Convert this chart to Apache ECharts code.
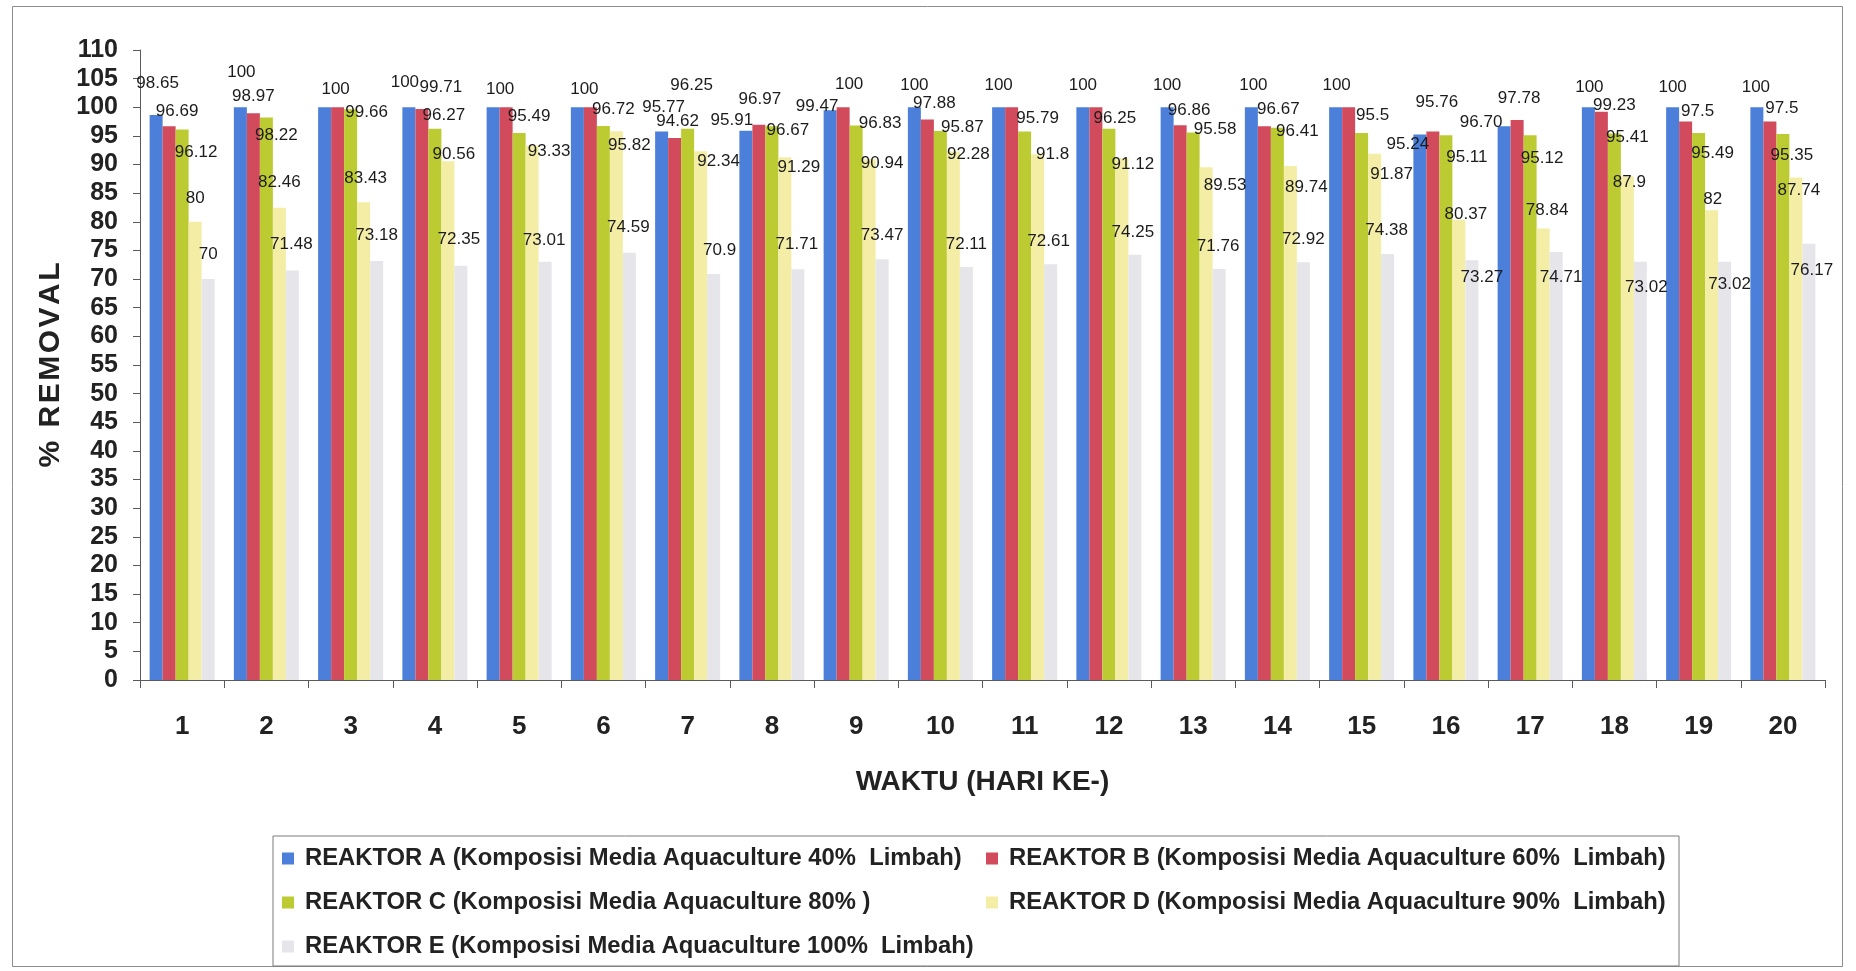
<!DOCTYPE html>
<html>
<head>
<meta charset="utf-8">
<script src="https://cdn.jsdelivr.net/npm/echarts@6/dist/echarts.min.js"></script>
<style>
  html, body { margin: 0; padding: 0; background: #ffffff; }
  #chart { width: 1856px; height: 971px; }
</style>
</head>
<body>
<div id="chart"></div>
<script>
// Days of observation (hari ke-)
const days = ['1', '2', '3', '4', '5', '6', '7', '8', '9', '10',
              '11', '12', '13', '14', '15', '16', '17', '18', '19', '20'];

// % removal per reactor (day 17 of A is reported as "96.70")
const reaktorA = [98.65, 100, 100, 100, 100, 100, 95.77, 95.91, 99.47, 100,
                  100, 100, 100, 100, 100, 95.24, '96.70', 100, 100, 100];
const reaktorB = [96.69, 98.97, 100, 99.71, 100, 100, 94.62, 96.97, 100, 97.88,
                  100, 100, 96.86, 96.67, 100, 95.76, 97.78, 99.23, 97.5, 97.5];
const reaktorC = [96.12, 98.22, 99.66, 96.27, 95.49, 96.72, 96.25, 96.67, 96.83, 95.87,
                  95.79, 96.25, 95.58, 96.41, 95.5, 95.11, 95.12, 95.41, 95.49, 95.35];
const reaktorD = [80, 82.46, 83.43, 90.56, 93.33, 95.82, 92.34, 91.29, 90.94, 92.28,
                  91.8, 91.12, 89.53, 89.74, 91.87, 80.37, 78.84, 87.9, 82, 87.74];
const reaktorE = [70, 71.48, 73.18, 72.35, 73.01, 74.59, 70.9, 71.71, 73.47, 72.11,
                  72.61, 74.25, 71.76, 72.92, 74.38, 73.27, 74.71, 73.02, 73.02, 76.17];

const seriesNames = [
  'REAKTOR A (Komposisi Media Aquaculture 40%  Limbah)',
  'REAKTOR B (Komposisi Media Aquaculture 60%  Limbah)',
  'REAKTOR C (Komposisi Media Aquaculture 80% )',
  'REAKTOR D (Komposisi Media Aquaculture 90%  Limbah)',
  'REAKTOR E (Komposisi Media Aquaculture 100%  Limbah)'
];

// Y axis range
const yMin = 0;
const yMax = 110;
const yStep = 5;

// Hand-placed value labels: [shift right, rise above the bar top] in px
const labelNudge = [
  [[1.5, 32], [1, 35], [11, 18], [-4, 25], [7, 18], [7, 18], [2, 24], [-14, 10], [-13, 4], [0, 22],
   [0, 22], [0, 22], [0, 22], [2, 22], [1, 22], [-12, -10], [-23, 4], [1, 20], [0, 20], [-1, 20]],
  [[8, 15], [0, 17], [0, 0], [19, 22], [0, 0], [0, 0], [3, 17], [1, 25], [6, 23], [7, 16],
   [0, 0], [0, 0], [9, 15], [14, 17], [0, 0], [4, 29], [2, 22], [13, 6], [12, 10], [12, 13]],
  [[14, -23], [10, -18], [16, -3], [9, 13], [10, 17], [10, 17], [4, 43], [16, -4], [24, 2], [22, 4],
   [13, 13], [6, 10], [22, 3], [20, -3], [11, 18], [21, -22], [12, -23], [13, -4], [14, -20], [9, -21]],
  [[0, 24], [0, 25], [2, 24], [6, 7], [17, -6], [13, -14], [18, -10], [14, -10], [13, -4], [15, -3],
   [15, 0], [11, -6], [19, -18], [16, -21], [17, -20], [7, 5], [4, 18], [2, -6], [1, 11], [3, -13]],
  [[0, 25], [-1, 26], [0, 26], [-2, 26], [-1, 22], [-1, 25], [6, 24], [-1, 25], [0, 24], [0, 23],
   [-2, 23], [-2, 22], [-1, 23], [0, 23], [-1, 24], [10, -17], [5, -25], [6, -26], [5, -23], [3, -27]]
];

const colors = ['#4b7fda', '#d24b5c', '#bdcb32', '#f4eda6', '#e6e6ea'];
const allValues = [reaktorA, reaktorB, reaktorC, reaktorD, reaktorE];

const fontFamily = "'Liberation Sans', Arial, sans-serif";
const labelLine = 17;

const series = allValues.map((vals, s) => ({
  name: seriesNames[s],
  type: 'bar',
  barWidth: 13,
  barGap: '0%',
  itemStyle: { color: colors[s] },
  data: vals.map((v, i) => ({
    value: Number(v),
    label: { offset: [labelNudge[s][i][0], labelLine / 2 - labelNudge[s][i][1]] }
  })),
  label: {
    show: true,
    position: 'top',
    distance: 0,
    fontFamily: fontFamily,
    fontSize: 17,
    lineHeight: labelLine,
    color: '#1c1c1c',
    formatter: (p) => {
      // B shares the A label when both reactors reach the same value
      if (s === 1 && Number(reaktorB[p.dataIndex]) === Number(reaktorA[p.dataIndex])) return '';
      return String(vals[p.dataIndex]);
    }
  }
}));

const chart = echarts.init(document.getElementById('chart'), null, { renderer: 'canvas' });

chart.setOption({
  animation: false,
  backgroundColor: '#ffffff',
  textStyle: { fontFamily: fontFamily },
  graphic: [{
    type: 'rect',
    shape: { x: 12.5, y: 6.5, width: 1830, height: 960 },
    style: { fill: 'none', stroke: '#8c8c8c', lineWidth: 1 },
    silent: true,
    z: -1
  }],
  grid: { left: 140, right: 31, top: 50, bottom: 291, containLabel: false },
  xAxis: {
    type: 'category',
    data: days,
    boundaryGap: true,
    axisLine: { lineStyle: { color: '#5a5a5a', width: 1 } },
    axisTick: { show: true, length: 8, alignWithLabel: false, lineStyle: { color: '#5a5a5a' } },
    axisLabel: {
      fontFamily: fontFamily,
      fontSize: 26,
      fontWeight: 'bold',
      lineHeight: 26,
      color: '#222222',
      margin: 34
    },
    name: 'WAKTU (HARI KE-)',
    nameLocation: 'middle',
    nameGap: 88,
    nameTextStyle: {
      fontFamily: fontFamily,
      fontSize: 28,
      fontWeight: 'bold',
      lineHeight: 28,
      color: '#222222'
    }
  },
  yAxis: {
    type: 'value',
    min: yMin,
    max: yMax,
    interval: yStep,
    splitLine: { show: false },
    axisLine: { show: true, lineStyle: { color: '#5a5a5a', width: 1 } },
    axisTick: { show: true, length: 7, lineStyle: { color: '#5a5a5a' } },
    axisLabel: {
      fontFamily: fontFamily,
      fontSize: 25,
      fontWeight: 'bold',
      color: '#222222',
      margin: 22
    },
    // letter-spaced axis title
    name: '%\u200A \u200AR\u200AE\u200AM\u200AO\u200AV\u200AA\u200AL',
    nameLocation: 'middle',
    nameGap: 69,
    nameRotate: 90,
    nameTextStyle: {
      fontFamily: fontFamily,
      fontSize: 30,
      fontWeight: 'bold',
      color: '#222222'
    }
  },
  legend: {
    left: 273,
    top: 836,
    width: 1395,
    orient: 'horizontal',
    icon: 'rect',
    itemWidth: 12,
    itemHeight: 12,
    itemGap: 19,
    padding: [10, 8, 7, 9],
    backgroundColor: '#ffffff',
    borderColor: '#7a7a7a',
    borderWidth: 1,
    borderRadius: 0,
    selectedMode: false,
    textStyle: {
      fontFamily: fontFamily,
      fontSize: 23.8,
      fontWeight: 'bold',
      color: '#222222',
      lineHeight: 25,
      width: 662,
      overflow: 'none',
      padding: [0, 0, 0, 6]
    },
    data: seriesNames
  },
  series: series
});
</script>
</body>
</html>
